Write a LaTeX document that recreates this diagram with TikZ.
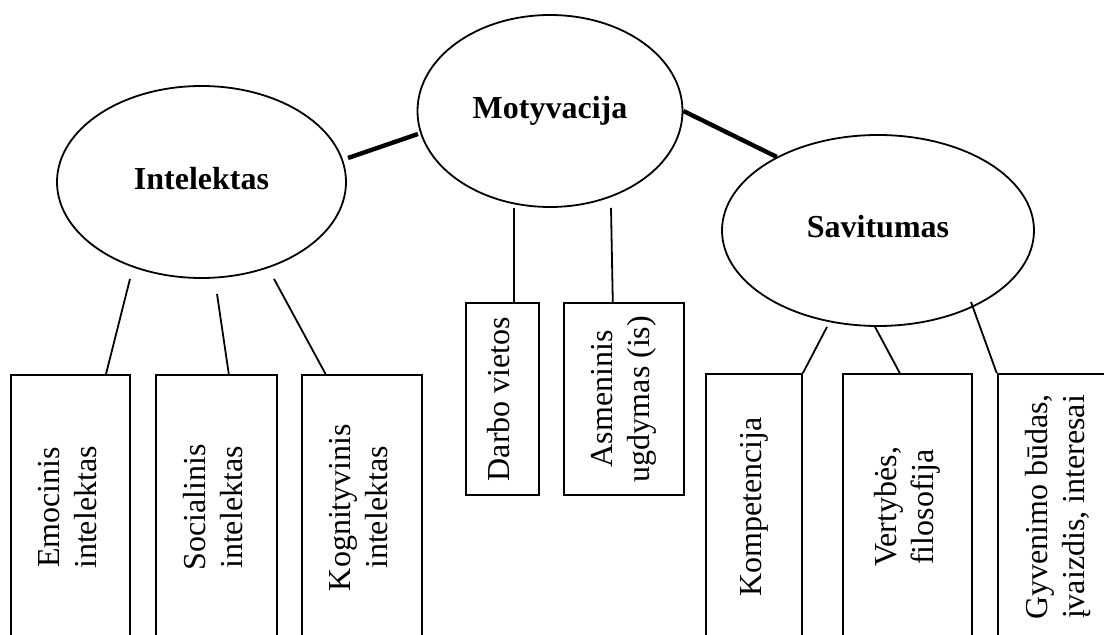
\documentclass[tikz,border=0pt]{standalone}
\usepackage{fontspec}
\setmainfont{Liberation Serif}
\usepackage{graphicx}
\usetikzlibrary{positioning}
\usetikzlibrary{calc, shapes.geometric}
\newcommand{\vtext}[1]{\rotatebox{90}{\begin{tabular}{@{}c@{}}#1\end{tabular}}}

\begin{document}
\begin{tikzpicture}[x=0.5pt, y=-0.5pt,
   every node/.style = {font=\fontsize{16}{18.5}\selectfont},
            oval/.style = {ellipse, draw, line width=0.9pt, inner sep=0pt,
                           font=\fontsize{16}{18.5}\selectfont\bfseries,
                           text height=11pt, text depth=3.5pt},
             box/.style = {rectangle, draw, line width=0.9pt, inner sep=0pt},
            link/.style = {line width=0.9pt},
            bond/.style = {line width=2.2pt}]
  \useasboundingbox (0,0) rectangle (1104,635);
  \clip (0,0) rectangle (1104,635);
  \node[oval, minimum width=132.5pt, minimum height=96pt] (motiv) at (550,111) {Motyvacija};
  \node[oval, minimum width=144.5pt, minimum height=96pt] (intel) at (201.5,182) {Intelektas};
  \node[oval, minimum width=156pt, minimum height=95.5pt] (savit) at (878,230.5) {Savitumas};
  % intelektas
  \node[box, minimum width=59.5pt, minimum height=132.5pt] (emo) at (70.5,507.5) {\vtext{Emocinis\\intelektas}};
  \node[box, minimum width=60.5pt, minimum height=132.5pt, right=12pt of emo] (soc) {\vtext{Socialinis\\intelektas}};
  \node[box, minimum width=60pt, minimum height=132.5pt, right=11.5pt of soc] (kog) {\vtext{Kognityvinis\\intelektas}};
  % motyvacija
  \node[box, minimum width=36.5pt, minimum height=96pt] (darbo) at (502.5,399) {\vtext{Darbo vietos}};
  \node[box, minimum width=60pt, minimum height=96pt, right=11.5pt of darbo] (asm) {\vtext{Asmeninis\\ugdymas (is)}};
  % savitumas
  \node[box, minimum width=48pt, minimum height=133pt] (komp) at (754,507) {\vtext{Kompetencija}};
  \node[box, minimum width=64.5pt, minimum height=133pt, right=19.5pt of komp] (vert) {\vtext{Vertybės,\\filosofija}};
  \node[box, minimum width=61pt, minimum height=133pt, right=12pt of vert] (gyv) {\vtext{Gyvenimo būdas,\\įvaizdis, interesai}};

  \draw[bond] ($(intel.center)+(146.5,-24)$) -- ($(motiv.center)+(-132,23)$);
  \draw[bond] (motiv.east) -- (savit.144);
  \draw[link] ($(intel.south)+(-71.5,0)$) -- ($(emo.north)+(35.5,0)$);
  \draw[link] ($(intel.south)+(15.5,15)$) -- ($(soc.north)+(12.5,0)$);
  \draw[link] ($(intel.south)+(72.5,0)$) -- ($(kog.north)+(-36,0)$);
  \draw[link] ($(motiv.south)+(-36,0)$) -- ($(darbo.north)+(11.5,0)$);
  \draw[link] ($(motiv.south)+(61,0)$) -- ($(asm.north)+(-11,0)$);
  \draw[link] ($(savit.south)+(-51,0)$) -- (komp.north east);
  \draw[link] ($(savit.south)+(-3,0)$) -- ($(vert.north)+(-7.5,0)$);
  \draw[link] ($(savit.center)+(93,71.5)$) -- (gyv.north west);
\end{tikzpicture}
\end{document}
